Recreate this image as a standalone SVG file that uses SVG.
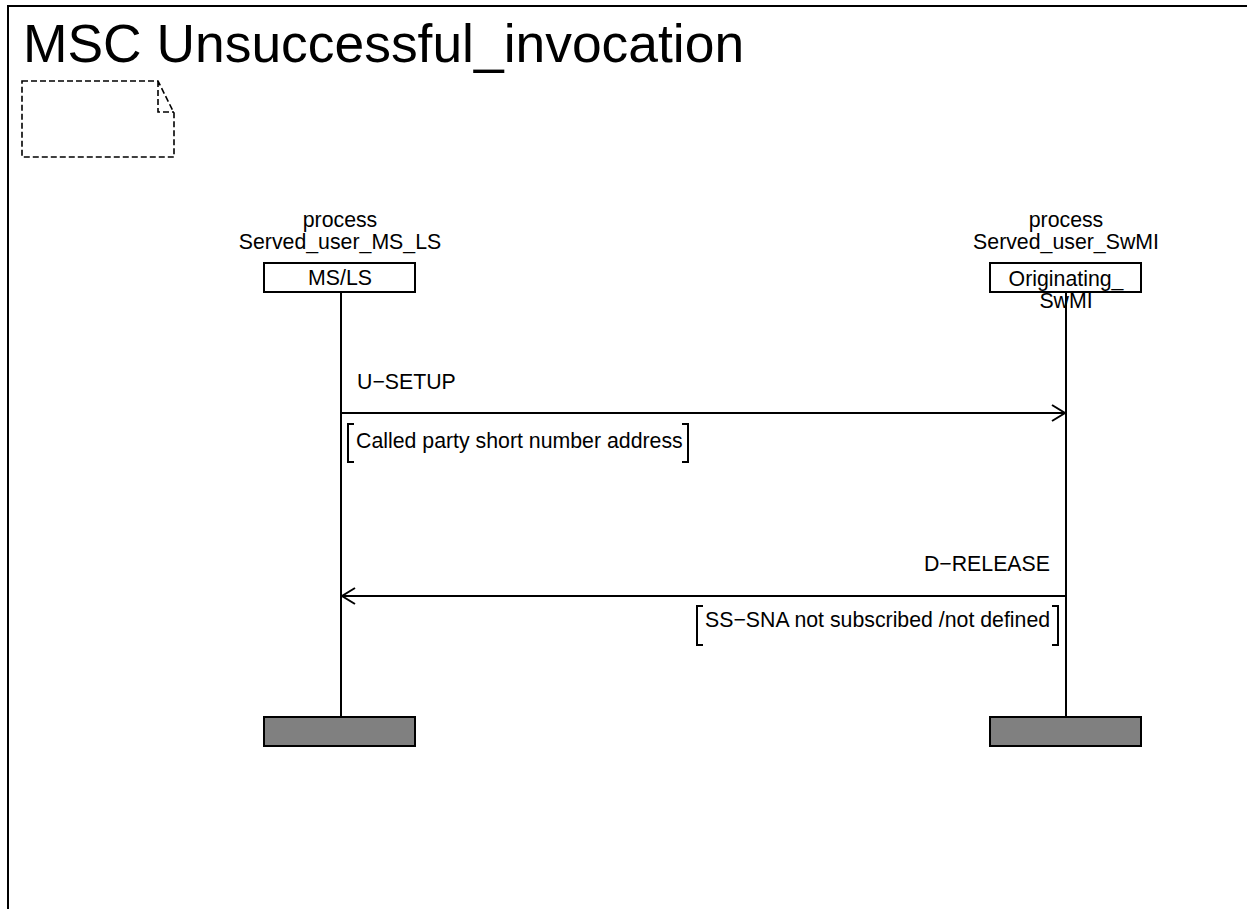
<svg xmlns="http://www.w3.org/2000/svg" width="1247" height="909" viewBox="0 0 1247 909">
<style>
text{font-family:"Liberation Sans",Arial,sans-serif;fill:#000}
.t{font-size:21.3px}
.mid{text-anchor:middle}
.ln{stroke:#000;stroke-width:2;fill:none}
.box{stroke:#000;stroke-width:2;fill:#fff}
.end{stroke:#000;stroke-width:2;fill:#808080}
.dash{stroke:#000;stroke-width:1.6;fill:none;stroke-dasharray:6 3}
</style>
<defs>
<marker id="arr" markerWidth="16" markerHeight="20" refX="14" refY="10" orient="auto" markerUnits="userSpaceOnUse">
<path d="M1,2 L14,10 L1,18" fill="none" stroke="#000" stroke-width="2"/>
</marker>
</defs>
<rect width="1247" height="909" fill="#fff"/>
<g id="frame">
<path class="ln" d="M8,909 L8,6 L1247,6"/>
<text x="23" y="62" font-size="53.4">MSC Unsuccessful_invocation</text>
</g>
<g id="comment">
<path class="dash" d="M22,81 L158,81 L174,113 L174,157 L22,157 Z M158,81 L158,112 L174,112"/>
</g>
<g id="ms_ls">
<text class="t mid" x="340" y="227">process</text>
<text class="t mid" x="340" y="249">Served_user_MS_LS</text>
<rect class="box" x="264" y="263" width="151" height="29"/>
<text class="t mid" x="340" y="285">MS/LS</text>
<line class="ln" x1="341" y1="292" x2="341" y2="717"/>
<rect class="end" x="264" y="717" width="151" height="29"/>
</g>
<g id="swmi">
<text class="t mid" x="1066" y="227">process</text>
<text class="t mid" x="1066" y="249">Served_user_SwMI</text>
<rect class="box" x="990" y="263" width="151" height="29"/>
<line class="ln" x1="1066" y1="292" x2="1066" y2="717"/>
<text class="t mid" x="1066" y="286">Originating_</text>
<text class="t mid" x="1066" y="308">SwMI</text>
<rect class="end" x="990" y="717" width="151" height="29"/>
</g>
<g id="connectors">
<line class="ln" x1="341" y1="413" x2="1065" y2="413" marker-end="url(#arr)"/>
<text class="t" x="357" y="389">U−SETUP</text>
<path class="ln" d="M354,424 L348,424 L348,462 L354,462 M682,424 L688,424 L688,462 L682,462"/>
<text class="t" x="356" y="448">Called party short number address</text>
<line class="ln" x1="1066" y1="596" x2="342" y2="596" marker-end="url(#arr)"/>
<text class="t" x="1050" y="571" text-anchor="end">D−RELEASE</text>
<path class="ln" d="M703,606 L697,606 L697,645 L703,645 M1052,606 L1058,606 L1058,645 L1052,645"/>
<text class="t" x="705" y="627">SS−SNA not subscribed /not defined</text>
</g>
</svg>
